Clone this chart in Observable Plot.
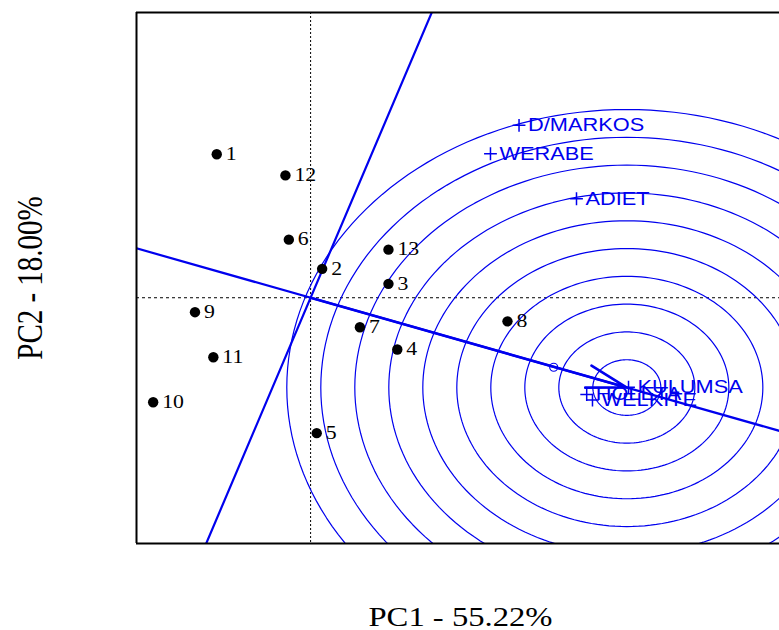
<!DOCTYPE html>
<html><head><meta charset="utf-8">
<script src="https://cdn.jsdelivr.net/npm/d3@7"></script>
<script src="https://cdn.jsdelivr.net/npm/@observablehq/plot@0.6"></script>
<style>html,body{margin:0;padding:0;background:#fff;overflow:hidden}</style>
</head><body><div id="chart"></div>
<script>
// ---- data ----
const genotypes = ["1","12","6","2","13","3","9","7","4","11","10","5","8"];
const genoPC1 = [-2.76,-0.74,-0.64,0.34,2.29,2.29,-3.40,1.45,2.55,-2.86,-4.63,0.18,5.79];
const genoPC2 = [5.16,4.40,2.09,1.04,1.73,0.50,-0.52,-1.06,-1.86,-2.14,-3.76,-4.87,-0.85];
const environments = ["D/MARKOS","WERABE","ADIET","KULUMSA","HOLETA","WELKITE"];
const envPC1 = [6.13,5.29,7.82,9.35,8.12,8.29];
const envPC2 = [6.20,5.18,3.56,-3.22,-3.48,-3.68];
const idealPC = [9.30, -3.23];      // arrow tip / centre of the concentric circles
const averagePC = [7.15, -2.50];    // small circle on the average-environment axis
const circleRadii = [1,2,3,4,5,6,7,8,9,10];
const xLabel = "PC1 - 55.22%";
const yLabel = "PC2 - 18.00%";
const xDomain = [-5.12, 13.79];
const yDomain = [-8.84, 10.26];

const BLUE = "#0000ee";
const STRETCH = 1.21;

const geno = genotypes.map((g, i) => ({label: g, pc1: genoPC1[i], pc2: genoPC2[i]}));
const env = environments.map((e, i) => ({label: e, pc1: envPC1[i], pc2: envPC2[i]}));

// concentric circles around the ideal point (geometry built from centre + radii)
const angles = d3.range(0, 361, 2).map(a => a * Math.PI / 180);
const circlePts = circleRadii.flatMap(r => angles.map(a => ({
  r, x: idealPC[0] + r * Math.cos(a), y: idealPC[1] + r * Math.sin(a)
})));
// average-environment axis (through origin and ideal point) and its perpendicular
const ateLine = [-1, 2].map(t => ({x: t * idealPC[0], y: t * idealPC[1]}));
const atcLine = [-1.5, 1.5].map(t => ({x: -t * idealPC[1], y: t * idealPC[0]}));
const arrowData = [{x1: 0, y1: 0, x2: idealPC[0], y2: idealPC[1]}];

const chart = Plot.plot({
  width: 779, height: 630,
  marginLeft: 136, marginRight: 0, marginTop: 12, marginBottom: 87,
  x: {domain: xDomain, axis: null},
  y: {domain: yDomain, axis: null},
  style: {background: "white"},
  marks: [
    Plot.ruleX([0], {stroke: "black", strokeWidth: 1, strokeDasharray: "2,2"}),
    Plot.ruleY([0], {stroke: "black", strokeWidth: 1, strokeDasharray: "3,3"}),
    Plot.line(circlePts, {x: "x", y: "y", z: "r", stroke: BLUE, strokeWidth: 1.2, clip: true}),
    Plot.line(ateLine, {x: "x", y: "y", stroke: BLUE, strokeWidth: 2.2, clip: true}),
    Plot.line(atcLine, {x: "x", y: "y", stroke: BLUE, strokeWidth: 2.2, clip: true}),
    Plot.arrow(arrowData, {x1: "x1", y1: "y1", x2: "x2", y2: "y2", stroke: BLUE, strokeWidth: 2.6, headLength: 24, headAngle: 32}),
    Plot.dot([{pc1: averagePC[0], pc2: averagePC[1]}], {x: "pc1", y: "pc2", r: 4, stroke: BLUE, strokeWidth: 1.2, fill: "none"}),
    Plot.dot(geno, {x: "pc1", y: "pc2", r: 5.2, fill: "black"}),
    Plot.text(geno, {x: "pc1", y: "pc2", text: "label", dx: 9, textAnchor: "start", lineAnchor: "middle",
      fontFamily: "Liberation Serif", fontSize: 18, fill: "black"}),
    Plot.dot(env, {x: "pc1", y: "pc2", symbol: "plus", r: 4.2, stroke: BLUE, strokeWidth: 1.5}),
    Plot.text(env, {x: "pc1", y: "pc2", text: "label", dx: 9, textAnchor: "start", lineAnchor: "middle",
      fontFamily: "Liberation Sans", fontSize: 18, fill: BLUE}),
    Plot.ruleX([xDomain[0]], {stroke: "black", strokeWidth: 2}),
    Plot.ruleY(yDomain, {stroke: "black", strokeWidth: 2}),
    Plot.text([xLabel], {frameAnchor: "bottom", text: d => d, dx: 2.5, dy: 73.4, textAnchor: "middle", lineAnchor: "middle",
      fontFamily: "Liberation Serif", fontSize: 27, fill: "black"}),
    Plot.text([yLabel], {frameAnchor: "left", text: d => d, dx: -106, rotate: -90, textAnchor: "middle", lineAnchor: "middle",
      fontFamily: "Liberation Serif", fontSize: 29, fill: "black"})
  ]
});

// the reference picture is stretched horizontally; stretch the glyphs the same way
chart.querySelectorAll("text").forEach(t => {
  const tr = t.getAttribute("transform");
  if (tr) {
    const m = tr.match(/^\s*translate\(([^)]*)\)(.*)$/);
    if (m) t.setAttribute("transform", `translate(${m[1]}) scale(${STRETCH},1)${m[2]}`);
  } else {
    const x = +(t.getAttribute("x") || 0), y = +(t.getAttribute("y") || 0);
    t.removeAttribute("x"); t.removeAttribute("y");
    t.setAttribute("transform", `translate(${x},${y}) scale(${STRETCH},1)`);
  }
});

document.getElementById("chart").appendChild(chart);
</script>
</body></html>
